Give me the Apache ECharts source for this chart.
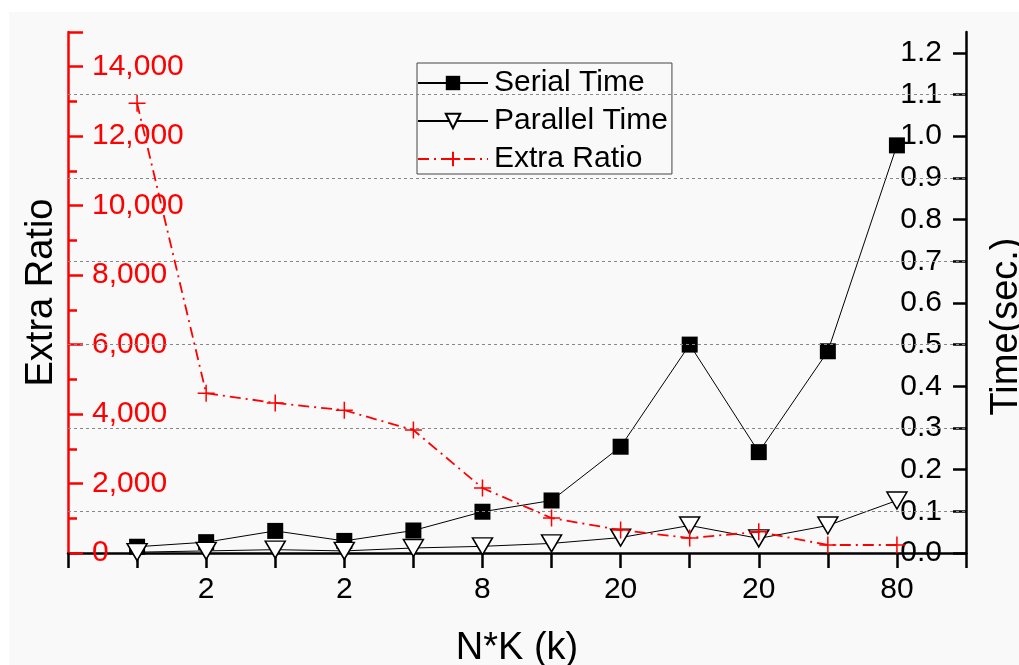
<!DOCTYPE html>
<html>
<head>
<meta charset="utf-8">
<script src="https://cdn.jsdelivr.net/npm/echarts@6/dist/echarts.min.js"></script>
<style>
  html, body { margin: 0; padding: 0; background: #fff; }
  #main { width: 1019px; height: 665px; }
</style>
</head>
<body>
<div id="main"></div>
<script>
// tick labels under points 1..12 (blank where the original shows none)
var xLabels = ['', '2', '', '2', '', '8', '', '20', '', '20', '', '80'];
var serialTime = [0.015, 0.026, 0.053, 0.029, 0.054, 0.099, 0.126, 0.255, 0.5, 0.242, 0.484, 0.978];
var parallelTime = [0.002, 0.005, 0.008, 0.005, 0.012, 0.016, 0.023, 0.037, 0.066, 0.035, 0.066, 0.126];
var extraRatio = [12950, 4600, 4320, 4110, 3540, 1870, 1006, 661, 431, 610, 230, 230];
var gridValues = [0.1, 0.3, 0.5, 0.7, 0.9, 1.1];

function pairs(arr) {
  return arr.map(function (v, i) { return [i + 1, v]; });
}

var font = '"Liberation Sans", Arial, sans-serif';
var myChart = echarts.init(document.getElementById('main'));

var option = {
  animation: false,
  backgroundColor: '#ffffff',
  graphic: [{
    type: 'rect',
    z: -10,
    shape: { x: 9, y: 12, width: 1010, height: 653 },
    style: { fill: '#f9f9f9' }
  }],
  legend: {
    orient: 'vertical',
    left: 417,
    top: 63,
    itemWidth: 70,
    itemHeight: 18,
    itemGap: 8,
    padding: [5, 4, 0, 0],
    borderColor: '#444',
    borderWidth: 1,
    backgroundColor: '#f9f9f9',
    textStyle: { fontFamily: font, fontSize: 30, color: '#000', padding: [0, 0, 0, 1] },
    data: ['Serial Time', 'Parallel Time', 'Extra Ratio']
  },
  grid: { left: 68, right: 53, top: 32, bottom: 112, outerBoundsMode: 'none' },
  xAxis: {
    type: 'value',
    min: 0,
    max: 13,
    interval: 1,
    name: 'N*K (k)',
    nameLocation: 'middle',
    nameGap: 77,
    nameTextStyle: { fontFamily: font, fontSize: 38, color: '#000' },
    axisLine: { lineStyle: { color: '#000', width: 2.5 } },
    axisTick: { length: 15, lineStyle: { color: '#000', width: 2.5 } },
    axisLabel: {
      fontFamily: font, fontSize: 30, color: '#000', margin: 22,
      formatter: function (v) { return xLabels[v - 1] || ''; }
    },
    splitLine: { show: false }
  },
  yAxis: [{
    type: 'value',
    position: 'left',
    min: 0,
    max: 15000,
    interval: 2000,
    name: 'Extra Ratio',
    nameLocation: 'middle',
    nameGap: 5,
    nameTextStyle: { fontFamily: font, fontSize: 38, color: '#000' },
    axisLine: { show: true, lineStyle: { color: '#ff0000', width: 2.5 } },
    axisTick: { show: true, inside: true, length: 15, lineStyle: { color: '#ff0000', width: 2.5 } },
    minorTick: { show: true, splitNumber: 2, length: 9, lineStyle: { color: '#ff0000', width: 2.5 } },
    axisLabel: {
      inside: true, margin: 24, showMaxLabel: false,
      fontFamily: font, fontSize: 30, color: '#ff0000',
      formatter: function (v) { return v.toLocaleString('en-US'); }
    },
    splitLine: { show: false }
  }, {
    type: 'value',
    position: 'right',
    min: 0,
    max: 1.25,
    interval: 0.1,
    name: 'Time(sec.)',
    nameLocation: 'middle',
    nameGap: 22,
    nameTextStyle: { fontFamily: font, fontSize: 38, color: '#000', padding: [0, 68, 0, 0] },
    axisLine: { show: true, lineStyle: { color: '#000', width: 2.5 } },
    axisTick: { show: true, inside: true, length: 13, lineStyle: { color: '#000', width: 2.5 } },
    axisLabel: {
      inside: true, margin: 24, showMaxLabel: false,
      fontFamily: font, fontSize: 30, color: '#000',
      formatter: function (v) { return v.toFixed(1); }
    },
    splitLine: { show: false }
  }, {
    // hidden axis only for the dashed guide lines
    type: 'value',
    position: 'right',
    min: 0,
    max: 1.25,
    interval: 0.1,
    axisLine: { show: false },
    axisTick: { show: false },
    axisLabel: { show: false },
    splitLine: { show: false }
  }],
  series: [{
    name: 'Serial Time',
    type: 'line',
    yAxisIndex: 1,
    data: pairs(serialTime),
    symbol: 'rect',
    symbolSize: 16,
    itemStyle: { color: '#000' },
    lineStyle: { color: '#000', width: 1 },
    z: 3
  }, {
    name: 'Parallel Time',
    type: 'line',
    yAxisIndex: 1,
    data: pairs(parallelTime),
    symbol: 'triangle',
    symbolRotate: 180,
    symbolSize: [20, 17],
    itemStyle: { color: '#fff', borderColor: '#000', borderWidth: 1.5 },
    lineStyle: { color: '#000', width: 1 },
    z: 4
  }, {
    name: 'Extra Ratio',
    type: 'line',
    yAxisIndex: 0,
    data: pairs(extraRatio),
    symbol: 'path://M8,0V16M0,8H16',
    symbolSize: 17,
    itemStyle: { color: 'rgba(0,0,0,0)', borderColor: '#ff0000', borderWidth: 1.5 },
    lineStyle: { color: '#ff0000', width: 1.8, type: [11, 5, 2, 5] },
    z: 5
  }, {
    name: 'guides',
    type: 'line',
    yAxisIndex: 2,
    data: [],
    silent: true,
    z: 1,
    markLine: {
      silent: true,
      symbol: ['none', 'none'],
      label: { show: false },
      lineStyle: { color: '#888', width: 1, type: [3, 3] },
      data: gridValues.map(function (v) { return { yAxis: v }; })
    }
  }]
};
myChart.setOption(option);
</script>
</body>
</html>
